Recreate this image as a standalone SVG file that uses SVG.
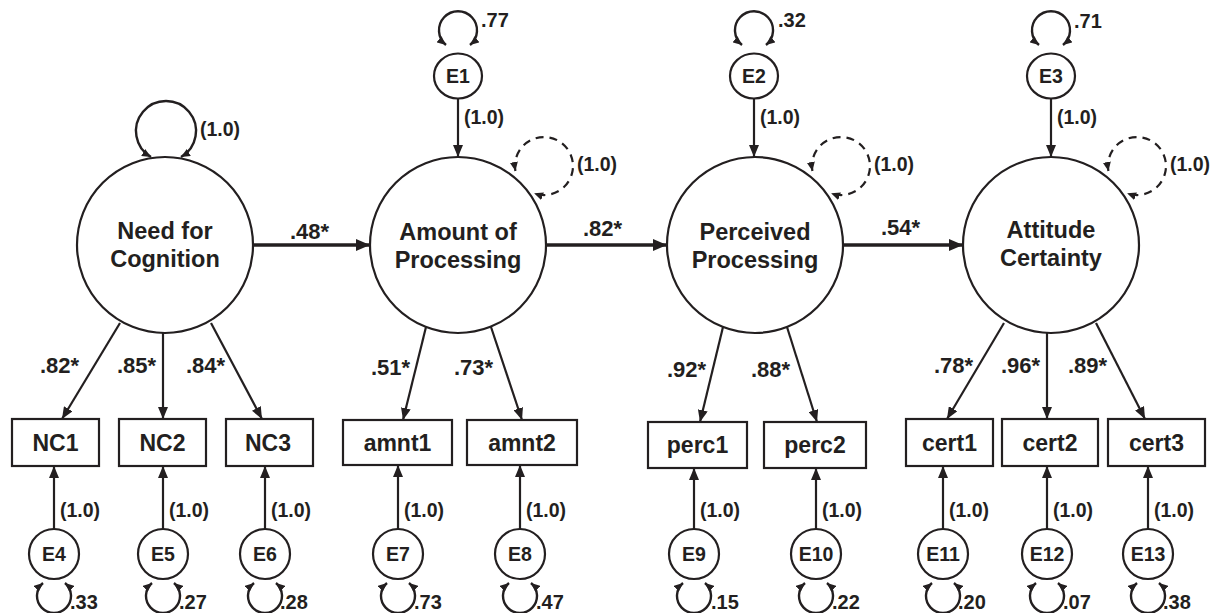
<svg xmlns="http://www.w3.org/2000/svg" width="1210" height="613" viewBox="0 0 1210 613">
  <style>
    text { font-family: "Liberation Sans", Arial, sans-serif; font-weight: bold; fill: #231f20; }
    .big { font-size: 23.5px; text-anchor: middle; }
    .box { font-size: 23px; text-anchor: middle; }
    .coef { font-size: 22px; }
    .fix { font-size: 19.5px; }
    .elab { font-size: 19.5px; text-anchor: middle; }
    .var { font-size: 20px; }
    .shape { fill: #fff; stroke: #231f20; stroke-width: 2.2; }
    .ln { fill: none; stroke: #231f20; stroke-width: 2.2; }
    .path { fill: none; stroke: #231f20; stroke-width: 3.4; }
    .loop { fill: none; stroke: #231f20; stroke-width: 2.4; }
    .dash { fill: none; stroke: #231f20; stroke-width: 2.2; stroke-dasharray: 8 6; }
  </style>
  <defs>
    <marker id="ah" viewBox="0 0 12 10" refX="12" refY="5" markerWidth="12" markerHeight="10" markerUnits="userSpaceOnUse" orient="auto">
      <path d="M0,0 L12,5 L0,10 z" fill="#231f20"/>
    </marker>
    <marker id="ahb" viewBox="0 0 14 12" refX="14" refY="6" markerWidth="14" markerHeight="12" markerUnits="userSpaceOnUse" orient="auto">
      <path d="M0,0 L14,6 L0,12 z" fill="#231f20"/>
    </marker>
    <marker id="ahs" viewBox="0 0 9 8" refX="9" refY="4" markerWidth="9" markerHeight="8" markerUnits="userSpaceOnUse" orient="auto-start-reverse">
      <path d="M0,0 L9,4 L0,8 z" fill="#231f20"/>
    </marker>
  </defs>

  <!-- connectors -->
  <g id="connectors">
    <!-- structural paths -->
    <line class="path" x1="253" y1="245" x2="370" y2="245" marker-end="url(#ahb)"/>
    <line class="path" x1="546" y1="245" x2="667" y2="245" marker-end="url(#ahb)"/>
    <line class="path" x1="843" y1="245" x2="963" y2="245" marker-end="url(#ahb)"/>

    <!-- disturbances into latent factors -->
    <line class="ln" x1="458" y1="98" x2="458" y2="157" marker-end="url(#ah)"/>
    <line class="ln" x1="754" y1="98" x2="754" y2="157" marker-end="url(#ah)"/>
    <line class="ln" x1="1051" y1="98" x2="1051" y2="157" marker-end="url(#ah)"/>

    <!-- factor loadings -->
    <line class="ln" x1="120" y1="323" x2="62" y2="419" marker-end="url(#ah)"/>
    <line class="ln" x1="163" y1="333" x2="163" y2="419" marker-end="url(#ah)"/>
    <line class="ln" x1="211" y1="323" x2="262" y2="419" marker-end="url(#ah)"/>
    <line class="ln" x1="426" y1="327" x2="403" y2="420" marker-end="url(#ah)"/>
    <line class="ln" x1="491" y1="327" x2="522" y2="420" marker-end="url(#ah)"/>
    <line class="ln" x1="723" y1="327" x2="700" y2="422" marker-end="url(#ah)"/>
    <line class="ln" x1="787" y1="327" x2="817" y2="422" marker-end="url(#ah)"/>
    <line class="ln" x1="1004" y1="323" x2="947" y2="419" marker-end="url(#ah)"/>
    <line class="ln" x1="1047" y1="333" x2="1047" y2="419" marker-end="url(#ah)"/>
    <line class="ln" x1="1096" y1="323" x2="1145" y2="419" marker-end="url(#ah)"/>

    <!-- measurement errors into indicators -->
    <line class="ln" x1="54" y1="529" x2="54" y2="466" marker-end="url(#ah)"/>
    <line class="ln" x1="163" y1="529" x2="163" y2="466" marker-end="url(#ah)"/>
    <line class="ln" x1="265" y1="529" x2="265" y2="466" marker-end="url(#ah)"/>
    <line class="ln" x1="398" y1="529" x2="398" y2="465" marker-end="url(#ah)"/>
    <line class="ln" x1="520" y1="529" x2="520" y2="465" marker-end="url(#ah)"/>
    <line class="ln" x1="694" y1="529" x2="694" y2="468" marker-end="url(#ah)"/>
    <line class="ln" x1="816" y1="529" x2="816" y2="468" marker-end="url(#ah)"/>
    <line class="ln" x1="943" y1="529" x2="943" y2="466" marker-end="url(#ah)"/>
    <line class="ln" x1="1047" y1="529" x2="1047" y2="466" marker-end="url(#ah)"/>
    <line class="ln" x1="1148" y1="529" x2="1148" y2="466" marker-end="url(#ah)"/>

    <!-- variance loops -->
    <path class="loop" d="M151 157 A30 30 0 1 1 181 157" marker-start="url(#ahs)" marker-end="url(#ahs)"/>
    <path class="loop" d="M446 45 A19 19 0 1 1 470 45" marker-start="url(#ahs)" marker-end="url(#ahs)"/>
    <path class="loop" d="M742 45 A19 19 0 1 1 766 45" marker-start="url(#ahs)" marker-end="url(#ahs)"/>
    <path class="loop" d="M1039 45 A19 19 0 1 1 1063 45" marker-start="url(#ahs)" marker-end="url(#ahs)"/>

    <path class="dash" d="M515.4 171 A29 29 0 1 1 534.1 193.3" marker-start="url(#ahs)" marker-end="url(#ahs)"/>
    <path class="dash" d="M812.4 171 A29 29 0 1 1 831.1 193.3" marker-start="url(#ahs)" marker-end="url(#ahs)"/>
    <path class="dash" d="M1108.4 171 A29 29 0 1 1 1127.1 193.3" marker-start="url(#ahs)" marker-end="url(#ahs)"/>

    <path class="loop" d="M43 583 A17 17 0 1 0 65 583" marker-start="url(#ahs)" marker-end="url(#ahs)"/>
    <path class="loop" d="M152 583 A17 17 0 1 0 174 583" marker-start="url(#ahs)" marker-end="url(#ahs)"/>
    <path class="loop" d="M254 583 A17 17 0 1 0 276 583" marker-start="url(#ahs)" marker-end="url(#ahs)"/>
    <path class="loop" d="M387 583 A17 17 0 1 0 409 583" marker-start="url(#ahs)" marker-end="url(#ahs)"/>
    <path class="loop" d="M509 583 A17 17 0 1 0 531 583" marker-start="url(#ahs)" marker-end="url(#ahs)"/>
    <path class="loop" d="M683 583 A17 17 0 1 0 705 583" marker-start="url(#ahs)" marker-end="url(#ahs)"/>
    <path class="loop" d="M805 583 A17 17 0 1 0 827 583" marker-start="url(#ahs)" marker-end="url(#ahs)"/>
    <path class="loop" d="M932 583 A17 17 0 1 0 954 583" marker-start="url(#ahs)" marker-end="url(#ahs)"/>
    <path class="loop" d="M1036 583 A17 17 0 1 0 1058 583" marker-start="url(#ahs)" marker-end="url(#ahs)"/>
    <path class="loop" d="M1137 583 A17 17 0 1 0 1159 583" marker-start="url(#ahs)" marker-end="url(#ahs)"/>

    <!-- coefficient labels -->
    <text class="coef" x="290" y="239">.48*</text>
    <text class="coef" x="583" y="236">.82*</text>
    <text class="coef" x="881" y="235">.54*</text>

    <text class="coef" x="40" y="373">.82*</text>
    <text class="coef" x="117" y="373">.85*</text>
    <text class="coef" x="186" y="373">.84*</text>
    <text class="coef" x="371" y="375">.51*</text>
    <text class="coef" x="454" y="375">.73*</text>
    <text class="coef" x="667" y="377">.92*</text>
    <text class="coef" x="751" y="377">.88*</text>
    <text class="coef" x="934" y="373">.78*</text>
    <text class="coef" x="1001" y="373">.96*</text>
    <text class="coef" x="1068" y="373">.89*</text>

    <!-- fixed parameters -->
    <text class="fix" x="200" y="136">(1.0)</text>
    <text class="fix" x="464" y="124">(1.0)</text>
    <text class="fix" x="760" y="124">(1.0)</text>
    <text class="fix" x="1057" y="124">(1.0)</text>
    <text class="fix" x="577" y="171">(1.0)</text>
    <text class="fix" x="874" y="171">(1.0)</text>
    <text class="fix" x="1170" y="171">(1.0)</text>

    <text class="fix" x="60" y="517">(1.0)</text>
    <text class="fix" x="169" y="517">(1.0)</text>
    <text class="fix" x="271" y="517">(1.0)</text>
    <text class="fix" x="404" y="517">(1.0)</text>
    <text class="fix" x="526" y="517">(1.0)</text>
    <text class="fix" x="700" y="517">(1.0)</text>
    <text class="fix" x="822" y="517">(1.0)</text>
    <text class="fix" x="949" y="517">(1.0)</text>
    <text class="fix" x="1053" y="517">(1.0)</text>
    <text class="fix" x="1154" y="517">(1.0)</text>

    <!-- error variances -->
    <text class="var" x="481" y="27">.77</text>
    <text class="var" x="778" y="27">.32</text>
    <text class="var" x="1074" y="28">.71</text>

    <text class="var" x="70" y="609">.33</text>
    <text class="var" x="179" y="609">.27</text>
    <text class="var" x="280" y="609">.28</text>
    <text class="var" x="414" y="609">.73</text>
    <text class="var" x="536" y="609">.47</text>
    <text class="var" x="711" y="609">.15</text>
    <text class="var" x="832" y="609">.22</text>
    <text class="var" x="958" y="609">.20</text>
    <text class="var" x="1063" y="609">.07</text>
    <text class="var" x="1163" y="609">.38</text>
  </g>

  <!-- latent factors -->
  <g id="need-for-cognition">
    <circle class="shape" cx="165" cy="245" r="88"/>
    <text class="big" x="165" y="239">Need for</text>
    <text class="big" x="165" y="267">Cognition</text>
  </g>
  <g id="amount-of-processing">
    <circle class="shape" cx="458" cy="245" r="88"/>
    <text class="big" x="458" y="240">Amount of</text>
    <text class="big" x="458" y="268">Processing</text>
  </g>
  <g id="perceived-processing">
    <circle class="shape" cx="755" cy="245" r="88"/>
    <text class="big" x="755" y="240">Perceived</text>
    <text class="big" x="755" y="268">Processing</text>
  </g>
  <g id="attitude-certainty">
    <circle class="shape" cx="1051" cy="245" r="88"/>
    <text class="big" x="1051" y="238">Attitude</text>
    <text class="big" x="1051" y="266">Certainty</text>
  </g>

  <!-- disturbances -->
  <g id="E1"><ellipse class="shape" cx="458" cy="76" rx="24" ry="22.5"/><text class="elab" x="458" y="83">E1</text></g>
  <g id="E2"><ellipse class="shape" cx="754" cy="76" rx="24" ry="22.5"/><text class="elab" x="754" y="83">E2</text></g>
  <g id="E3"><ellipse class="shape" cx="1051" cy="76" rx="24" ry="22.5"/><text class="elab" x="1051" y="83">E3</text></g>

  <!-- indicators -->
  <g id="NC1"><rect class="shape" x="12" y="419" width="87" height="47"/><text class="box" x="55.5" y="451">NC1</text></g>
  <g id="NC2"><rect class="shape" x="119" y="419" width="87" height="47"/><text class="box" x="162.5" y="451">NC2</text></g>
  <g id="NC3"><rect class="shape" x="226" y="419" width="87" height="47"/><text class="box" x="268" y="451">NC3</text></g>
  <g id="amnt1"><rect class="shape" x="343" y="420" width="109" height="45"/><text class="box" x="397.5" y="451">amnt1</text></g>
  <g id="amnt2"><rect class="shape" x="467" y="420" width="110" height="45"/><text class="box" x="522" y="451">amnt2</text></g>
  <g id="perc1"><rect class="shape" x="648" y="422" width="99" height="46"/><text class="box" x="697.5" y="453">perc1</text></g>
  <g id="perc2"><rect class="shape" x="764" y="422" width="102" height="46"/><text class="box" x="815" y="453">perc2</text></g>
  <g id="cert1"><rect class="shape" x="906" y="419" width="87" height="47"/><text class="box" x="949.5" y="451">cert1</text></g>
  <g id="cert2"><rect class="shape" x="1002" y="419" width="96" height="47"/><text class="box" x="1050" y="451">cert2</text></g>
  <g id="cert3"><rect class="shape" x="1108" y="419" width="97" height="47"/><text class="box" x="1156.5" y="451">cert3</text></g>

  <!-- measurement errors -->
  <g id="E4"><circle class="shape" cx="54" cy="554" r="25"/><text class="elab" x="54" y="561">E4</text></g>
  <g id="E5"><circle class="shape" cx="163" cy="554" r="25"/><text class="elab" x="163" y="561">E5</text></g>
  <g id="E6"><circle class="shape" cx="265" cy="554" r="25"/><text class="elab" x="265" y="561">E6</text></g>
  <g id="E7"><circle class="shape" cx="398" cy="554" r="25"/><text class="elab" x="398" y="561">E7</text></g>
  <g id="E8"><circle class="shape" cx="520" cy="554" r="25"/><text class="elab" x="520" y="561">E8</text></g>
  <g id="E9"><circle class="shape" cx="694" cy="554" r="25"/><text class="elab" x="694" y="561">E9</text></g>
  <g id="E10"><circle class="shape" cx="816" cy="554" r="25"/><text class="elab" x="816" y="561">E10</text></g>
  <g id="E11"><circle class="shape" cx="943" cy="554" r="25"/><text class="elab" x="943" y="561">E11</text></g>
  <g id="E12"><circle class="shape" cx="1047" cy="554" r="25"/><text class="elab" x="1047" y="561">E12</text></g>
  <g id="E13"><circle class="shape" cx="1148" cy="554" r="25"/><text class="elab" x="1148" y="561">E13</text></g>
</svg>
